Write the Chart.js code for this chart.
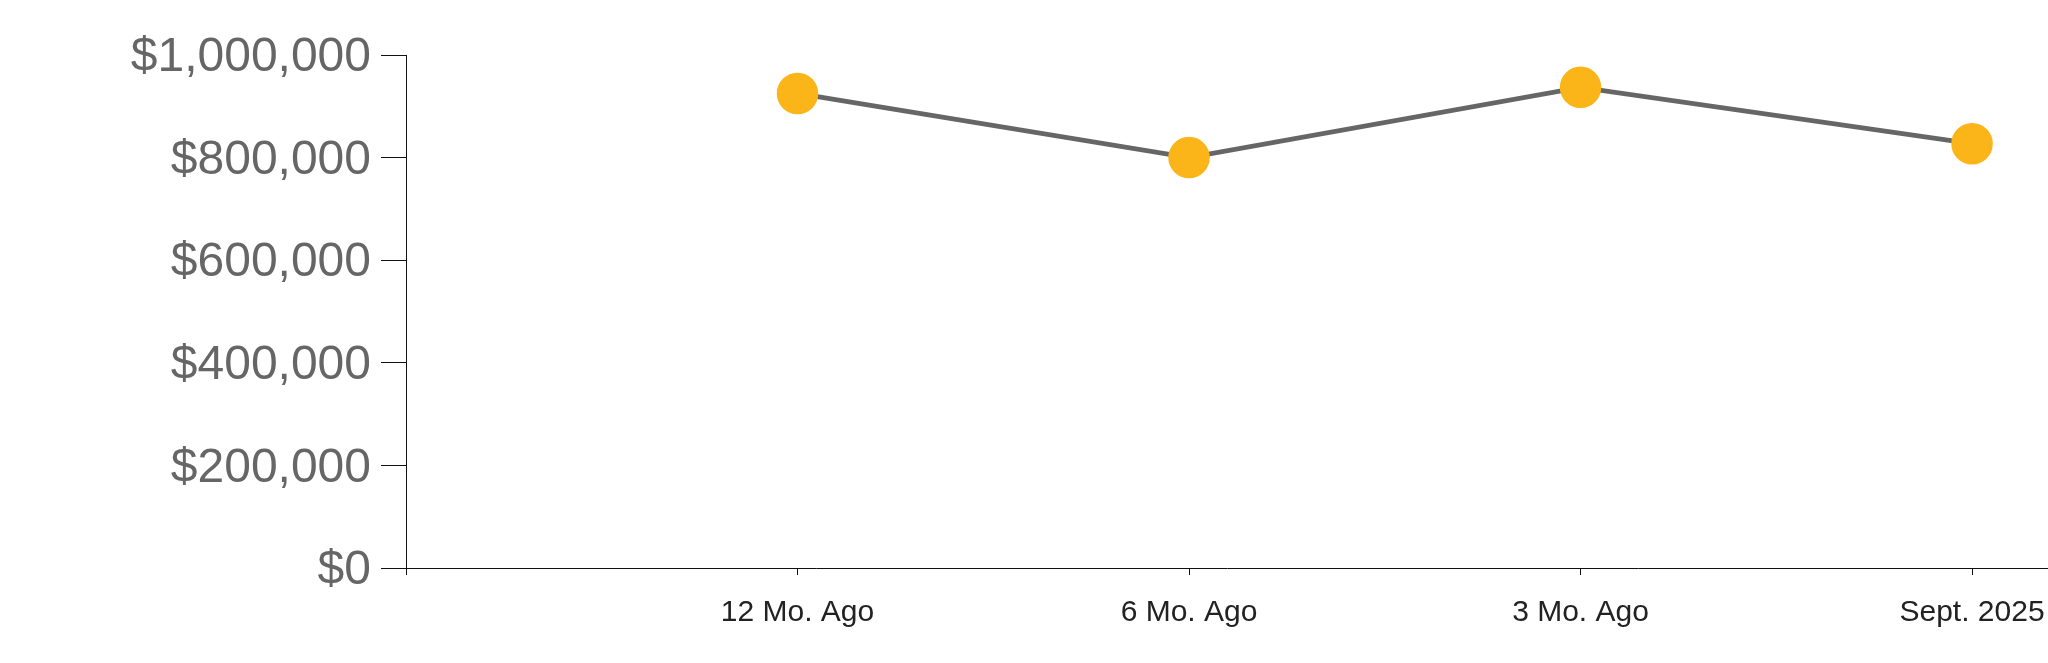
<!DOCTYPE html>
<html>
<head>
<meta charset="utf-8">
<script src="https://cdn.jsdelivr.net/npm/chart.js@4.4.1/dist/chart.umd.min.js"></script>
<style>
  html, body { margin: 0; padding: 0; background: #ffffff; overflow: hidden; }
  #wrap { width: 2048px; height: 663px; position: relative; }
</style>
</head>
<body>
<div id="wrap"><canvas id="c"></canvas></div>
<script>
const categories = ['12 Mo. Ago', '6 Mo. Ago', '3 Mo. Ago', 'Sept. 2025'];
const values = [925000, 800000, 937000, 827000];
const yTickValues = [0, 200000, 400000, 600000, 800000, 1000000];
const xTickValues = [0, 1, 2, 3, 4];

const fmtMoney = v => '$' + Math.round(v).toString().replace(/\B(?=(\d{3})+(?!\d))/g, ',');

new Chart(document.getElementById('c'), {
  type: 'line',
  data: {
    datasets: [{
      data: categories.map((c, i) => ({ x: i + 1, y: values[i] })),
      borderColor: '#666666',
      borderWidth: 4.8,
      pointRadius: 20,
      pointBackgroundColor: '#FBB519',
      pointBorderColor: '#FBB519',
      pointBorderWidth: 1.5,
      tension: 0,
      fill: false,
      clip: false
    }]
  },
  options: {
    responsive: true,
    maintainAspectRatio: false,
    animation: false,
    layout: { autoPadding: false, padding: { top: 55, right: 0, left: 0, bottom: 0 } },
    plugins: { legend: { display: false }, tooltip: { enabled: false } },
    scales: {
      x: {
        type: 'linear',
        min: 0,
        max: 4.194,
        afterBuildTicks: s => { s.ticks = xTickValues.map(v => ({ value: v })); },
        afterFit: s => { s.height = 95; s.paddingLeft = 0; s.paddingRight = 0; },
        grid: { display: true, drawOnChartArea: false, tickLength: 7, color: '#111111', lineWidth: 1 },
        border: { display: true, color: '#111111', width: 1 },
        ticks: {
          autoSkip: false,
          maxRotation: 0,
          padding: 0,
          color: '#222222',
          font: { family: 'Liberation Sans, Arial, sans-serif', size: 30, lineHeight: 2.53 },
          callback: v => (v >= 1 && v <= categories.length ? categories[v - 1] : '')
        }
      },
      y: {
        min: 0,
        max: 1000000,
        afterBuildTicks: s => { s.ticks = yTickValues.map(v => ({ value: v })); },
        afterFit: s => { s.width = 406; s.paddingTop = 0; s.paddingBottom = 0; },
        grid: { display: true, drawOnChartArea: false, tickLength: 25, color: '#111111', lineWidth: 1 },
        border: { display: true, color: '#111111', width: 1 },
        ticks: {
          padding: 10,
          labelOffset: 3,
          color: '#666666',
          font: { family: 'Liberation Sans, Arial, sans-serif', size: 48 },
          callback: v => fmtMoney(v)
        }
      }
    }
  }
});
</script>
</body>
</html>
